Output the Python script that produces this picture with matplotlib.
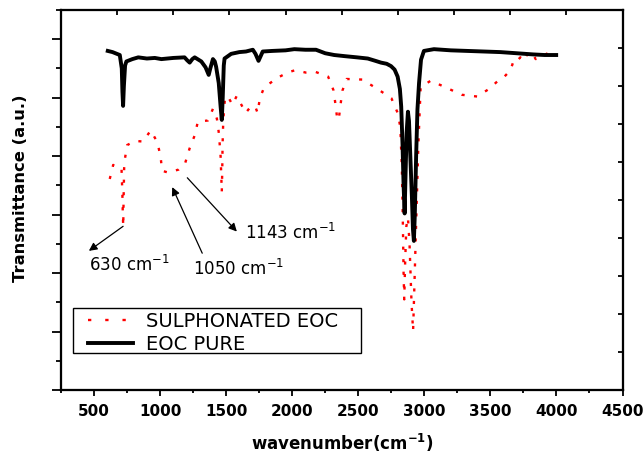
import matplotlib
matplotlib.use("Agg")
import matplotlib.pyplot as plt
from matplotlib.lines import Line2D
from matplotlib.patches import Rectangle

plt.rcParams['font.family'] = ['DejaVu Sans']
plt.rcParams['mathtext.fontset'] = 'dejavusans'

# EOC PURE
pure_x = [604, 640, 695, 710, 715, 720, 726, 735, 745, 790, 835, 900, 960, 1010, 1100, 1185, 1205, 1224, 1244, 1262,
          1312, 1344, 1368, 1380, 1400, 1414, 1424, 1444, 1458, 1467, 1474, 1482, 1488, 1538, 1600, 1650, 1702, 1722,
          1745, 1777, 1850, 1950, 2016, 2100, 2180, 2250, 2318, 2400, 2490, 2572, 2630, 2672, 2715, 2748, 2775, 2798,
          2815, 2825, 2835, 2843, 2851, 2858, 2866, 2876, 2884, 2894, 2906, 2914, 2921, 2928, 2938, 2948, 2960, 2975,
          2997, 3073, 3200, 3325, 3450, 3575, 3700, 3825, 3910, 3998]
pure_y = [58.0, 57.8, 57.3, 55.0, 51.0, 48.6, 52.0, 55.5, 56.2, 56.6, 56.9, 56.7, 56.8, 56.6, 56.8, 56.9, 56.4, 56.0,
          56.6, 56.9, 56.2, 55.2, 53.9, 55.0, 56.6, 56.2, 55.3, 52.5, 48.5, 46.2, 50.0, 55.5, 56.7, 57.5, 57.8, 57.9,
          58.2, 57.5, 56.3, 57.9, 58.0, 58.1, 58.3, 58.2, 58.2, 57.6, 57.3, 57.1, 56.9, 56.7, 56.3, 56.0, 55.8, 55.4,
          54.8, 53.6, 51.5, 48.5, 42.0, 35.0, 30.2, 37.0, 44.0, 47.6, 46.0, 40.0, 33.0, 27.5, 25.5, 30.0, 40.0, 48.0,
          52.5, 56.5, 58.0, 58.3, 58.1, 58.0, 57.9, 57.8, 57.6, 57.4, 57.3, 57.3]

# SULPHONATED EOC
sulph_x = [619, 645, 670, 708, 714, 718, 721, 724, 728, 732, 751, 813, 871, 929, 979, 1004, 1015, 1060, 1140, 1191,
           1223, 1261, 1286, 1362, 1400, 1430, 1445, 1458, 1464, 1467, 1470, 1473, 1478, 1490, 1510, 1548, 1580, 1622,
           1648, 1687, 1720, 1738, 1755, 1783, 1833, 1881, 1964, 2022, 2102, 2178, 2272, 2312, 2328, 2340, 2352, 2364,
           2380, 2412, 2530, 2645, 2751, 2798, 2818, 2830, 2838, 2843, 2848, 2855, 2864, 2876, 2888, 2903, 2915, 2925,
           2940, 2955, 2972, 3048, 3168, 3282, 3400, 3490, 3558, 3606, 3652, 3677, 3697, 3727, 3745, 3790, 3815, 3843,
           3934, 4000]
sulph_y = [36.1, 38.5, 38.1, 37.9, 34.0, 30.0, 28.0, 33.0, 38.0, 39.3, 41.9, 42.6, 42.5, 44.4, 42.4, 39.9, 37.5, 37.2,
           37.7, 38.9, 41.3, 43.5, 45.9, 46.1, 48.1, 46.4, 43.9, 40.0, 36.0, 33.9, 37.0, 42.0, 46.0, 49.6, 50.3, 48.8,
           50.3, 48.5, 47.4, 48.5, 48.5, 47.4, 49.9, 51.5, 52.5, 53.3, 54.3, 54.7, 54.3, 54.4, 53.6, 51.3, 48.8, 46.5,
           46.2, 48.5, 51.2, 53.2, 53.1, 51.5, 49.9, 47.4, 45.0, 38.0, 28.0, 20.0, 15.5, 22.0, 28.0, 29.5, 25.0, 15.0,
           10.1, 18.0, 30.0, 42.0, 51.8, 52.9, 51.7, 50.5, 50.2, 51.5, 52.9, 53.6, 54.7, 56.4, 56.2, 56.9, 56.3, 57.7,
           57.7, 56.6, 57.6, 58.0]

series_labels = ['SULPHONATED EOC', 'EOC PURE']
x_ticks = [500, 1000, 1500, 2000, 2500, 3000, 3500, 4000, 4500]

# annotations: label, text pos, arrow tail, arrow head
ann_labels = ['630 cm$^{-1}$', '1050 cm$^{-1}$', '1143 cm$^{-1}$']
ann_text = [(461, 20.4), (1249, 19.7), (1646, 25.8)]
ann_tail = [(720, 28.0), (1319, 23.4), (1206, 36.3)]
ann_head = [(461, 23.8), (1092, 34.7), (1581, 27.1)]

W, H = 643, 454
fig = plt.figure(figsize=(W / 100, H / 100), dpi=100)
ax = fig.add_axes([61 / W, 64 / H, 561.5 / W, 380 / H])

ax.plot(sulph_x, sulph_y, color='#ff0000', lw=1.7, linestyle=(0, (1.3, 4.0)), dash_capstyle='butt')
ax.plot(pure_x, pure_y, color='black', lw=2.8, solid_joinstyle='round')

ax.set_xlim(260, 4500)
ax.set_ylim(0, 65)
ax.set_xticks(x_ticks)
ax.set_xticks(range(250, 4501, 250), minor=True)
ax.set_yticks(range(0, 61, 10))
ax.set_yticks(range(5, 66, 10), minor=True)
ax.set_yticklabels([])
ax.tick_params(axis='x', which='major', direction='out', length=4.5, width=1.3, pad=5.5,
               labelsize=11)
ax.tick_params(axis='x', which='minor', direction='out', length=2.5, width=1.3)
ax.tick_params(axis='y', which='major', direction='out', length=6.5, width=1.3)
ax.tick_params(axis='y', which='minor', direction='out', length=3.5, width=1.3)
for lab in ax.get_xticklabels():
    lab.set_fontweight('bold')
for sp in ax.spines.values():
    sp.set_linewidth(1.5)

# top and right inward ticks (independent scale)
axt = ax.twiny()
axt.set_xlim(0, 10)
axt.set_xticks(range(11))
axt.tick_params(axis='x', direction='in', length=3.5, width=1.3, labeltop=False)
axr = ax.twinx()
axr.set_ylim(0, 10)
axr.set_yticks(range(11))
axr.tick_params(axis='y', direction='in', length=3.5, width=1.3, labelright=False)
for a in (axt, axr):
    for sp in a.spines.values():
        sp.set_linewidth(1.5)

ax.set_xlabel('wavenumber(cm$^{\\mathbf{-1}}$)', fontsize=12, fontweight='bold')
ax.xaxis.label.set_va('baseline')
ax.xaxis.set_label_coords(0.5, -0.158)
ax.set_ylabel('Transmittance (a.u.)', fontsize=11.8, fontweight='bold')
ax.yaxis.label.set_va('center')
ax.yaxis.set_label_coords(-0.073, 0.53)

for lab, tp, tl, hd in zip(ann_labels, ann_text, ann_tail, ann_head):
    ax.text(tp[0], tp[1], lab, fontsize=12, ha='left', va='baseline')
    ax.annotate('', xy=hd, xytext=tl,
                arrowprops=dict(arrowstyle='-|>', color='black', lw=0.9,
                                mutation_scale=12, shrinkA=0, shrinkB=0))

# legend: frame drawn as a box, entries placed inside it
axr.add_patch(Rectangle((73 / W, (H - 353) / H), 288 / W, 45 / H, transform=fig.transFigure,
                        facecolor='white', edgecolor='black', lw=1.0, zorder=4, clip_on=False))
handles = [Line2D([], [], color='#ff0000', lw=1.7, linestyle=(0, (1.4, 5.9)), dash_capstyle='butt'),
           Line2D([], [], color='black', lw=2.8)]
leg = axr.legend(handles, series_labels, loc='upper left', bbox_to_anchor=(88 / W, (H - 312) / H),
                 bbox_transform=fig.transFigure, fontsize=14, frameon=False,
                 borderaxespad=0, borderpad=0, labelspacing=0.2, handlelength=2.32,
                 handletextpad=0.67)
leg.set_zorder(6)

fig.savefig('out.png', dpi=100)
